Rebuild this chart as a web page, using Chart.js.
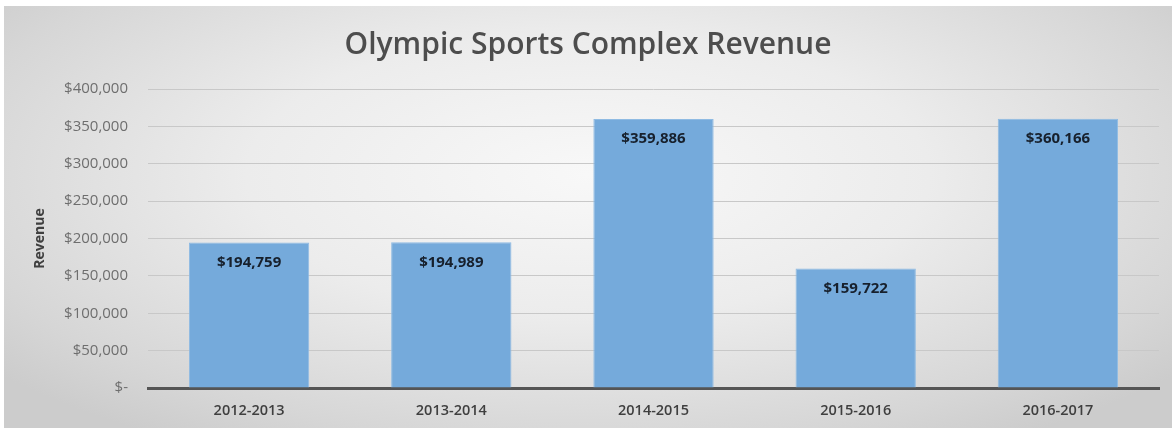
<!DOCTYPE html>
<html>
<head>
<meta charset="utf-8">
<script src="https://cdn.jsdelivr.net/npm/chart.js@4.4.1/dist/chart.umd.min.js"></script>
<style>
  html, body { margin: 0; padding: 0; background: #fff; }
  #panel {
    position: absolute; left: 4px; top: 6px; width: 1168px; height: 422px;
    background: radial-gradient(ellipse 65% 75% at 50% 40%, #f8f8f8 0%, #ececec 45%, #d6d6d6 85%, #cccccc 100%);
  }
  canvas { display: block; }
</style>
</head>
<body>
<div id="panel"><canvas id="chart" width="1168" height="422"></canvas></div>
<script>
const titol = 'Olympic Sports Complex Revenue';
const categories = ['2012-2013', '2013-2014', '2014-2015', '2015-2016', '2016-2017'];
const revenue = [194759, 194989, 359886, 159722, 360166];
const yMax = 400000;
const yStep = 50000;

const diners = (v) => v === 0 ? '$-' : '$' + v.toLocaleString('en-US');

// titol i etiquetes de les barres dibuixats a ma
const extres = {
    id: 'extres',
    afterDatasetsDraw(chart) {
        const ctx = chart.ctx;
        ctx.save();
        ctx.fillStyle = '#4d4d4d';
        ctx.font = '600 30px "Open Sans"';
        ctx.textAlign = 'center';
        ctx.textBaseline = 'middle';
        ctx.fillText(titol, chart.width / 2, 39);

        ctx.fillStyle = '#17202c';
        ctx.font = 'bold 15px "Open Sans"';
        chart.getDatasetMeta(0).data.forEach((bar, i) => {
            ctx.fillText(diners(revenue[i]), bar.x, bar.y + 20);
        });
        ctx.restore();
    }
};

new Chart(document.getElementById('chart'), {
    type: 'bar',
    data: {
        labels: categories,
        datasets: [{
            data: revenue,
            backgroundColor: '#75aadb',
            borderColor: '#8fbbe3',
            borderWidth: 1,
            categoryPercentage: 1,
            barPercentage: 0.595
        }]
    },
    options: {
        responsive: false, animation: false,
        layout: { padding: { top: 83, right: 13, left: 0, bottom: 0 } },
        plugins: { legend: { display: false }, tooltip: { enabled: false } },
        scales: {
            x: {
                afterFit: (s) => { s.height = 40; },
                grid: { display: false, drawTicks: false },
                border: { color: '#555', width: 3 },
                ticks: { color: '#3f3f3f', font: { family: 'Open Sans', size: 14.5, weight: '600' }, padding: 14 }
            },
            y: {
                min: 0, max: yMax,
                afterFit: (s) => { s.width = 144; },
                grid: { color: (c) => c.tick.value === 0 ? '#555' : '#c8c8c8', lineWidth: 1, drawTicks: false },
                border: { display: false },
                ticks: {
                    stepSize: yStep, padding: 20, color: '#6e6e6e',
                    font: { family: 'Open Sans', size: 15 },
                    callback: (v) => diners(v)
                },
                title: {
                    display: true, text: 'Revenue', color: '#404040',
                    font: { family: 'Open Sans', size: 14, weight: 'bold' },
                    padding: { top: 28, bottom: 0 }
                }
            }
        }
    },
    plugins: [extres]
});
</script>
</body>
</html>
